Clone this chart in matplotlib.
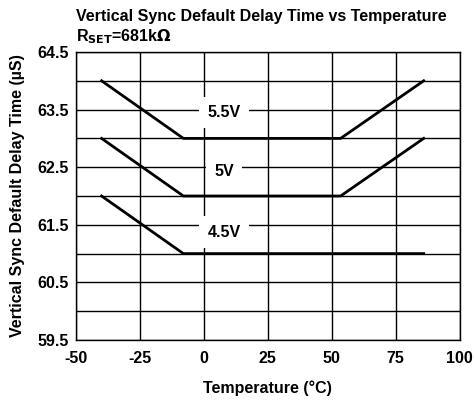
import matplotlib
matplotlib.use("Agg")
import matplotlib.pyplot as plt
import numpy as np

plt.rcParams["font.family"] = ["Liberation Sans", "DejaVu Sans"]
plt.rcParams["font.weight"] = "bold"
plt.rcParams["axes.unicode_minus"] = False

# =====================================================
# Data
# =====================================================
temp_knots = [-40, -8, 53.5, 86]
delay_55v = [64.0, 63.0, 63.0, 64.0]
delay_5v = [63.0, 62.0, 62.0, 63.0]
temp_45v = [-40, -8, 86]
delay_45v = [62.0, 61.0, 61.0]

labels = ["5.5V", "5V", "4.5V"]
label_x = [8, 8, 8]
label_y = [63.45, 62.42, 61.37]

FS = 11.5

# =====================================================
# Plot
# =====================================================
fig = plt.figure(figsize=(4.74, 4.03), dpi=100)
ax = fig.add_axes([76 / 474, 1 - 340 / 403, (459.5 - 76) / 474, (340 - 52) / 403])

ax.set_xlim(-50, 100)
ax.set_ylim(59.5, 64.5)
yt = np.arange(59.5, 64.6, 0.5)
ax.set_xticks(np.arange(-50, 101, 25))
ax.set_yticks(yt)
ax.set_yticklabels([f"{v:.1f}" if i % 2 == 0 else "" for i, v in enumerate(yt)])
ax.tick_params(length=0, labelsize=FS, pad=8)
ax.tick_params(axis="y", pad=5)
for lab in ax.get_xticklabels() + ax.get_yticklabels():
    lab.set_fontweight("bold")
ax.grid(True, color="black", linewidth=1)
for s in ax.spines.values():
    s.set_linewidth(1)

ax.plot(temp_knots, delay_55v, color="black", linewidth=2, zorder=3)
ax.plot(temp_knots, delay_5v, color="black", linewidth=2, zorder=3)
ax.plot(temp_45v, delay_45v, color="black", linewidth=2, zorder=3)

for lab, x, y in zip(labels, label_x, label_y):
    ax.text(x, y, lab, ha="center", va="center", fontsize=FS, fontweight="bold",
            bbox=dict(facecolor="white", edgecolor="none", pad=6), zorder=4)

ax.set_xlabel("Temperature (°C)", fontsize=FS, fontweight="bold", labelpad=10)
ax.set_ylabel("Vertical Sync Default Delay Time (µS)", fontsize=FS, fontweight="bold", labelpad=9)

fig.text(76 / 474, 1 - 17 / 403, "Vertical Sync Default Delay Time vs Temperature",
         fontsize=FS, fontweight="bold", va="center", ha="left")
fig.text(76 / 474, 1 - 37 / 403, r"R$_{\mathbf{SET}}$=681k$\Omega$",
         fontsize=FS, fontweight="bold", va="center", ha="left")

fig.savefig("out.png", dpi=100)
